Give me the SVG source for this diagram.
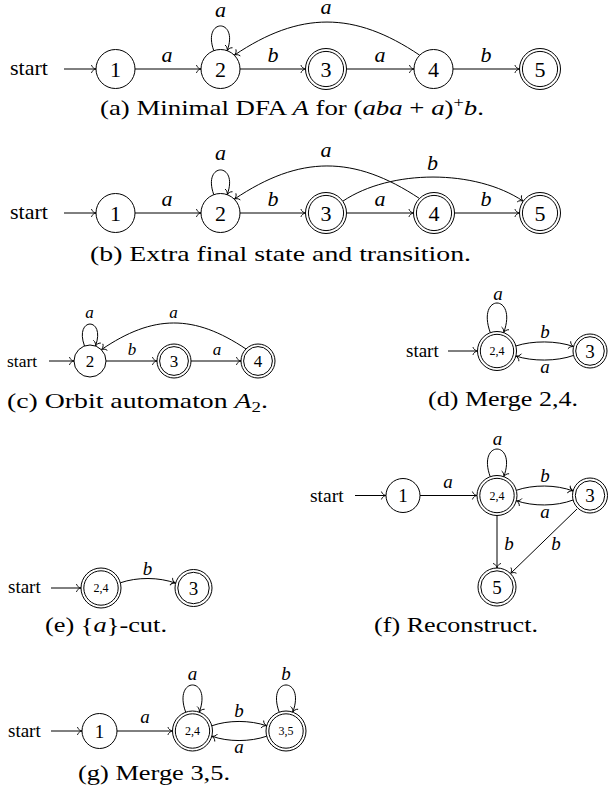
<svg xmlns="http://www.w3.org/2000/svg" width="608" height="797" viewBox="0 0 608 797" font-family="'Liberation Serif', 'Times New Roman', serif">
<defs>
<marker id="ah" viewBox="-6 -5 8 10" markerWidth="8" markerHeight="10" refX="0" refY="0" orient="auto" markerUnits="userSpaceOnUse">
<path d="M-4.5,-3.6 C-4,-1.5 -1.5,-0.3 0,0 C-1.5,0.3 -4,1.5 -4.5,3.6" fill="none" stroke="#000" stroke-width="0.9" stroke-linecap="round"/>
</marker>
<style>
.n{fill:#fff;stroke:#000;stroke-width:1}
.i{fill:none;stroke:#000;stroke-width:1}
.e{fill:none;stroke:#000;stroke-width:1;marker-end:url(#ah)}
text{font-family:'Liberation Serif','Times New Roman',serif;fill:#000}
.L{font-size:22px;text-anchor:middle}
.l{font-size:19px;text-anchor:middle}
.ls{font-size:17px;text-anchor:middle}
.s{font-size:12px;text-anchor:middle}
.el{font-style:italic;text-anchor:middle}
.cap{font-size:22px}
.it{font-style:italic}
</style>
</defs>
<rect width="608" height="797" fill="#fff"/>

<!-- (a) -->
<g id="fig-a">
<g id="a-connectors">
<path class="e" d="M64 69 L96 69"/>
<path class="e" d="M135 69 L201 69"/>
<path class="e" d="M240 69 L305.5 69"/>
<path class="e" d="M346.5 69 L414 69"/>
<path class="e" d="M453 69 L519.5 69"/>
<path class="e" d="M213.8 50.7 C201.8 17.7 239.2 17.7 227.2 50.7"/>
<path class="e" d="M419.7 55.2 C354.2 11 299.8 11 234.3 55.2"/>
<text class="el" font-size="22" x="167" y="62">a</text>
<text class="el" font-size="22" x="273" y="62">b</text>
<text class="el" font-size="22" x="380" y="62">a</text>
<text class="el" font-size="22" x="486" y="62">b</text>
<text class="el" font-size="22" x="220.5" y="17">a</text>
<text class="el" font-size="22" x="326" y="14">a</text>
</g>
<text x="10" y="75" font-size="22">start</text>
<g id="a-n1"><circle class="n" cx="115.5" cy="69" r="19.5"/><text class="L" x="115.5" y="76.5">1</text></g>
<g id="a-n2"><circle class="n" cx="220.5" cy="69" r="19.5"/><text class="L" x="220.5" y="76.5">2</text></g>
<g id="a-n3"><circle class="n" cx="326" cy="69" r="20.5"/><circle class="i" cx="326" cy="69" r="17.6"/><text class="L" x="326" y="76.5">3</text></g>
<g id="a-n4"><circle class="n" cx="433.5" cy="69" r="19.5"/><text class="L" x="433.5" y="76.5">4</text></g>
<g id="a-n5"><circle class="n" cx="540" cy="69" r="20.5"/><circle class="i" cx="540" cy="69" r="17.6"/><text class="L" x="540" y="76.5">5</text></g>
<text class="cap" x="100" y="115" textLength="384" lengthAdjust="spacingAndGlyphs">(a) Minimal DFA <tspan class="it">A</tspan> for (<tspan class="it">aba</tspan> + <tspan class="it">a</tspan>)<tspan font-size="15" dy="-8">+</tspan><tspan class="it" dy="8">b</tspan>.</text>
</g>

<!-- (b) -->
<g id="fig-b">
<g id="b-connectors">
<path class="e" d="M64 213 L96 213"/>
<path class="e" d="M135 213 L201 213"/>
<path class="e" d="M240 213 L305.5 213"/>
<path class="e" d="M346.5 213 L413.5 213"/>
<path class="e" d="M454.5 213 L519.5 213"/>
<path class="e" d="M213.8 194.7 C201.8 161.7 239.2 161.7 227.2 194.7"/>
<path class="e" d="M419.5 198.5 C354 155 299.8 155 234.3 199.2"/>
<path class="e" d="M342.8 201.2 C390.5 169 475.5 169 523.2 201.2"/>
<text class="el" font-size="22" x="167" y="206">a</text>
<text class="el" font-size="22" x="273" y="206">b</text>
<text class="el" font-size="22" x="380" y="206">a</text>
<text class="el" font-size="22" x="486" y="206">b</text>
<text class="el" font-size="22" x="220.5" y="160">a</text>
<text class="el" font-size="22" x="326" y="157">a</text>
<text class="el" font-size="22" x="432.5" y="170">b</text>
</g>
<text x="10" y="219" font-size="22">start</text>
<g id="b-n1"><circle class="n" cx="115.5" cy="213" r="19.5"/><text class="L" x="115.5" y="220.5">1</text></g>
<g id="b-n2"><circle class="n" cx="220.5" cy="213" r="19.5"/><text class="L" x="220.5" y="220.5">2</text></g>
<g id="b-n3"><circle class="n" cx="326" cy="213" r="20.5"/><circle class="i" cx="326" cy="213" r="17.6"/><text class="L" x="326" y="220.5">3</text></g>
<g id="b-n4"><circle class="n" cx="434" cy="213" r="20.5"/><circle class="i" cx="434" cy="213" r="17.6"/><text class="L" x="434" y="220.5">4</text></g>
<g id="b-n5"><circle class="n" cx="540" cy="213" r="20.5"/><circle class="i" cx="540" cy="213" r="17.6"/><text class="L" x="540" y="220.5">5</text></g>
<text class="cap" x="90" y="261" textLength="381" lengthAdjust="spacingAndGlyphs">(b) Extra final state and transition.</text>
</g>

<!-- (c) -->
<g id="fig-c">
<g id="c-connectors">
<path class="e" d="M49 361 L74 361"/>
<path class="e" d="M106 361 L157 361"/>
<path class="e" d="M191 361 L241 361"/>
<path class="e" d="M84.5 346 C73.8 316.7 106.2 316.7 95.5 346"/>
<path class="e" d="M246 349 C194 314.2 153.3 314.2 101.3 349.7"/>
<text class="el" font-size="17" x="132" y="355">b</text>
<text class="el" font-size="17" x="217" y="355">a</text>
<text class="el" font-size="17" x="89.5" y="318">a</text>
<text class="el" font-size="17" x="173.5" y="318">a</text>
</g>
<text x="7" y="367" font-size="17.5">start</text>
<g id="c-n2"><circle class="n" cx="90" cy="361" r="16"/><text class="ls" x="90" y="367">2</text></g>
<g id="c-n3"><circle class="n" cx="174" cy="361" r="17"/><circle class="i" cx="174" cy="361" r="14.4"/><text class="ls" x="174" y="367">3</text></g>
<g id="c-n4"><circle class="n" cx="258" cy="361" r="17"/><circle class="i" cx="258" cy="361" r="14.4"/><text class="ls" x="258" y="367">4</text></g>
<text class="cap" x="7" y="408" textLength="261" lengthAdjust="spacingAndGlyphs">(c) Orbit automaton <tspan class="it">A</tspan><tspan font-size="15" dy="4">2</tspan><tspan dy="-4">.</tspan></text>
</g>

<!-- (d) -->
<g id="fig-d">
<g id="d-connectors">
<path class="e" d="M448 351 L477.5 351"/>
<path class="e" d="M490.3 332.7 C475.9 293.1 518.1 293.1 503.7 332.7"/>
<path class="e" d="M515.8 346 C532 340.5 557 340.5 573.6 346.6"/>
<path class="e" d="M573.6 355.4 C557 361.5 532 361.5 515.8 356"/>
<text class="el" font-size="19" x="498" y="300">a</text>
<text class="el" font-size="19" x="545" y="338">b</text>
<text class="el" font-size="19" x="545" y="373">a</text>
</g>
<text x="406" y="357" font-size="19">start</text>
<g id="d-n24"><circle class="n" cx="497" cy="351" r="19.5"/><circle class="i" cx="497" cy="351" r="16.7"/><text class="s" x="497" y="355">2,4</text></g>
<g id="d-n3"><circle class="n" cx="590" cy="351" r="17"/><circle class="i" cx="590" cy="351" r="14.3"/><text class="l" x="590" y="357.5">3</text></g>
<text class="cap" x="428" y="406" textLength="150" lengthAdjust="spacingAndGlyphs">(d) Merge 2,4.</text>
</g>

<!-- (e) -->
<g id="fig-e">
<g id="e-connectors">
<path class="e" d="M51 588 L81 588"/>
<path class="e" d="M120.3 582.8 C137 577 159 577 175.6 583.2"/>
<text class="el" font-size="19" x="147.5" y="575">b</text>
</g>
<text x="8" y="593" font-size="19">start</text>
<g id="e-n24"><circle class="n" cx="101" cy="588" r="20"/><circle class="i" cx="101" cy="588" r="17.2"/><text class="s" x="101" y="592">2,4</text></g>
<g id="e-n3"><circle class="n" cx="193.5" cy="588" r="18.5"/><circle class="i" cx="193.5" cy="588" r="15.7"/><text class="l" x="193.5" y="594.5">3</text></g>
<text class="cap" x="45" y="632" textLength="122" lengthAdjust="spacingAndGlyphs">(e) {<tspan class="it">a</tspan>}-cut.</text>
</g>

<!-- (f) -->
<g id="fig-f">
<g id="f-connectors">
<path class="e" d="M355 495.5 L386 495.5"/>
<path class="e" d="M420 495.5 L477 495.5"/>
<path class="e" d="M490.2 476.7 C476.8 439.8 517.2 439.8 503.8 476.7"/>
<path class="e" d="M516.3 490.3 C533 484.5 556 484.5 573.1 491"/>
<path class="e" d="M573.1 500 C556 506.5 533 506.5 516.3 500.7"/>
<path class="e" d="M497 515.5 L497 568"/>
<path class="e" d="M577 509 L510.4 573.6"/>
<text class="el" font-size="19" x="448" y="488">a</text>
<text class="el" font-size="19" x="497.5" y="445">a</text>
<text class="el" font-size="19" x="545" y="482">b</text>
<text class="el" font-size="19" x="545" y="518">a</text>
<text class="el" font-size="19" x="509" y="550">b</text>
<text class="el" font-size="19" x="556" y="550">b</text>
</g>
<text x="310" y="501.5" font-size="19.5">start</text>
<g id="f-n1"><circle class="n" cx="403" cy="495.5" r="17"/><text class="l" x="403" y="502">1</text></g>
<g id="f-n24"><circle class="n" cx="497" cy="495.5" r="20"/><circle class="i" cx="497" cy="495.5" r="17.2"/><text class="s" x="497" y="499.5">2,4</text></g>
<g id="f-n3"><circle class="n" cx="590" cy="495.5" r="17.5"/><circle class="i" cx="590" cy="495.5" r="14.7"/><text class="l" x="590" y="502">3</text></g>
<g id="f-n5"><circle class="n" cx="497" cy="587" r="19"/><circle class="i" cx="497" cy="587" r="16.2"/><text class="l" x="497" y="593.5">5</text></g>
<text class="cap" x="374" y="632" textLength="164" lengthAdjust="spacingAndGlyphs">(f) Reconstruct.</text>
</g>

<!-- (g) -->
<g id="fig-g">
<g id="g-connectors">
<path class="e" d="M51 731 L82 731"/>
<path class="e" d="M117 731 L172.5 731"/>
<path class="e" d="M185.7 712.2 C172.5 675.9 212.5 675.9 199.3 712.2"/>
<path class="e" d="M279.2 712.2 C266 675.9 306 675.9 292.8 712.2"/>
<path class="e" d="M211.8 725.8 C228 720 250 720 266.7 725.8"/>
<path class="e" d="M266.7 736.2 C250 742 228 742 211.8 736.2"/>
<text class="el" font-size="19" x="145" y="723">a</text>
<text class="el" font-size="19" x="192.5" y="680">a</text>
<text class="el" font-size="19" x="286" y="680">b</text>
<text class="el" font-size="19" x="239" y="717">b</text>
<text class="el" font-size="19" x="239" y="753">a</text>
</g>
<text x="8" y="737" font-size="19">start</text>
<g id="g-n1"><circle class="n" cx="99.5" cy="731" r="17.5"/><text class="l" x="99.5" y="737.5">1</text></g>
<g id="g-n24"><circle class="n" cx="192.5" cy="731" r="20"/><circle class="i" cx="192.5" cy="731" r="17.2"/><text class="s" x="192.5" y="735">2,4</text></g>
<g id="g-n35"><circle class="n" cx="286" cy="731" r="20"/><circle class="i" cx="286" cy="731" r="17.2"/><text class="s" x="286" y="735">3,5</text></g>
<text class="cap" x="78" y="780" textLength="152" lengthAdjust="spacingAndGlyphs">(g) Merge 3,5.</text>
</g>
</svg>
